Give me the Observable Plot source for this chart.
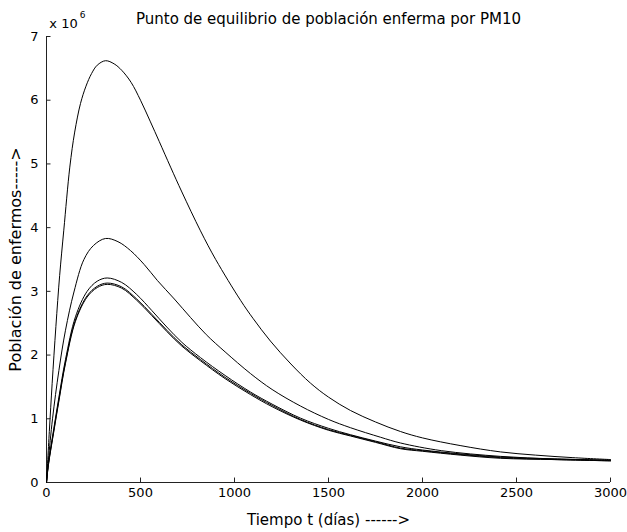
<!DOCTYPE html>
<html><head><meta charset="utf-8">
<script src="https://cdn.jsdelivr.net/npm/d3@7"></script>
<script src="https://cdn.jsdelivr.net/npm/@observablehq/plot@0.6"></script>
<style>body{margin:0;background:#fff;} #c svg{display:block;}</style>
</head><body><div id="c"></div>
<script>
const title = "Punto de equilibrio de población enferma por PM10";
const xLabel = "Tiempo t (días) ------>";
const yLabel = "Población de enfermos----->";
const expBase = "x 10";
const expPow = "6";
const xTicks = [0, 500, 1000, 1500, 2000, 2500, 3000];
const yTicks = [0, 1, 2, 3, 4, 5, 6, 7];
// values in millions (x 10^6)
const tA = [0, 15, 30, 50, 70, 92, 124, 150, 181, 210, 240, 270, 314, 360, 400, 450, 500, 553, 600, 660, 720, 819, 900, 1032, 1100, 1191, 1300, 1404, 1500, 1617, 1750, 1883, 2000, 2200, 2415, 2600, 2800, 3000];
const vA = [0, 0.8, 1.55, 2.45, 3.25, 3.96, 4.95, 5.5, 5.95, 6.22, 6.42, 6.55, 6.62, 6.57, 6.47, 6.28, 6.0, 5.66, 5.35, 4.95, 4.56, 3.95, 3.5, 2.86, 2.57, 2.22, 1.86, 1.56, 1.34, 1.13, 0.95, 0.8, 0.7, 0.58, 0.48, 0.43, 0.39, 0.36];
const tB = [0, 10, 32, 66, 101, 146, 199, 250, 314, 380, 447, 520, 590, 680, 766, 850, 950, 1085, 1200, 1351, 1500, 1617, 1777, 1883, 2100, 2415, 2700, 3000];
const vB = [0, 0.35, 1.0, 1.76, 2.39, 2.99, 3.5, 3.72, 3.83, 3.78, 3.64, 3.42, 3.17, 2.88, 2.59, 2.32, 2.05, 1.71, 1.46, 1.2, 0.99, 0.86, 0.71, 0.62, 0.5, 0.41, 0.37, 0.35];
const tC = [0, 10, 39, 66, 101, 154, 216, 270, 323, 400, 480, 560, 640, 720, 819, 950, 1085, 1200, 1351, 1500, 1617, 1750, 1883, 2000, 2200, 2415, 2700, 3000];
const vC = [0, 0.3, 0.85, 1.34, 1.93, 2.6, 3.0, 3.16, 3.21, 3.14, 2.95, 2.7, 2.44, 2.2, 1.96, 1.68, 1.42, 1.23, 1.01, 0.85, 0.75, 0.65, 0.56, 0.51, 0.45, 0.4, 0.37, 0.35];
const vD = [0, 0.28, 0.82, 1.3, 1.89, 2.55, 2.93, 3.08, 3.13, 3.07, 2.88, 2.64, 2.39, 2.16, 1.93, 1.65, 1.4, 1.21, 0.99, 0.83, 0.74, 0.64, 0.54, 0.5, 0.44, 0.39, 0.36, 0.34];
const vE = [0, 0.27, 0.8, 1.28, 1.87, 2.53, 2.91, 3.06, 3.11, 3.05, 2.86, 2.62, 2.37, 2.14, 1.91, 1.63, 1.38, 1.19, 0.98, 0.82, 0.73, 0.63, 0.53, 0.49, 0.43, 0.38, 0.36, 0.34];

const series = [["A", tA, vA], ["B", tB, vB], ["C", tC, vC], ["D", tC, vD], ["E", tC, vE]];
const rows = series.flatMap(([s, t, v]) => t.map((x, i) => ({s, t: x, v: v[i]})));

const FONT = "'DejaVu Sans', sans-serif";
const plot = Plot.plot({
  width: 627, height: 532,
  marginTop: 36, marginBottom: 50, marginLeft: 46, marginRight: 17,
  style: {fontFamily: FONT, fontSize: "13px", background: "#fff", color: "#000"},
  x: {domain: [0, 3000]},
  y: {domain: [0, 7]},
  marks: [
    Plot.axisX({ticks: xTicks, tickSize: 0, tickPadding: 5, label: null, fontSize: 13, tickFormat: d => String(d)}),
    Plot.axisY({ticks: yTicks, tickSize: 0, tickPadding: 8, label: null, fontSize: 13, tickFormat: d => String(d)}),
    Plot.ruleX(xTicks, {y1: 0, y2: 0.07, stroke: "#222"}),
    Plot.ruleY(yTicks, {x1: 0, x2: 24, stroke: "#222"}),
    Plot.ruleX([0], {stroke: "#222"}),
    Plot.ruleY([0], {stroke: "#222"}),
    Plot.line(rows, {x: "t", y: "v", z: "s", stroke: "#000", strokeWidth: 1, curve: "catmull-rom"}),
    Plot.text([title], {x: () => 1500, y: () => 7, textAnchor: "middle", lineAnchor: "middle", dy: -17, fontSize: 15}),
    Plot.text([expBase], {x: () => 0, y: () => 7, textAnchor: "middle", lineAnchor: "middle", dx: 17, dy: -13, fontSize: 13}),
    Plot.text([expPow], {x: () => 0, y: () => 7, textAnchor: "middle", lineAnchor: "middle", dx: 36, dy: -21, fontSize: 9}),
    Plot.text([xLabel], {x: () => 1500, y: () => 0, textAnchor: "middle", lineAnchor: "middle", dy: 38, fontSize: 15}),
    Plot.text([yLabel], {frameAnchor: "left", lineAnchor: "middle", textAnchor: "middle", dx: -31, rotate: -90, fontSize: 16})
  ]
});
document.getElementById("c").appendChild(plot);
</script></body></html>
